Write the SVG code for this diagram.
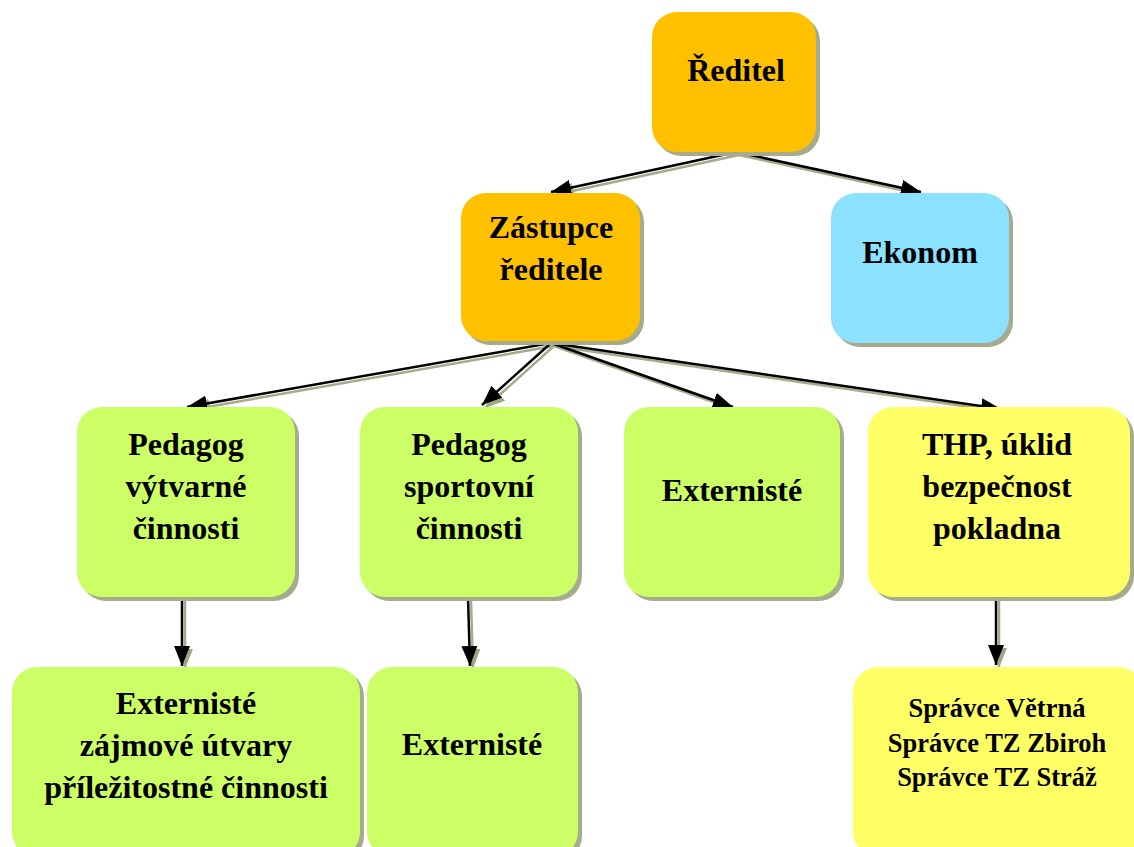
<svg xmlns="http://www.w3.org/2000/svg" width="1134" height="847" viewBox="0 0 1134 847">
<defs>
<marker id="ah" markerUnits="userSpaceOnUse" markerWidth="22" markerHeight="16" refX="20" refY="8" orient="auto"><path d="M0,0 L20,8 L0,16 Z" fill="#000"/></marker>
<marker id="ahs" markerUnits="userSpaceOnUse" markerWidth="22" markerHeight="16" refX="20" refY="8" orient="auto"><path d="M0,0 L20,8 L0,16 Z" fill="#9fa882"/></marker>
</defs>
<style>
.sh{fill:#a5ab8c}
.or{fill:#FFC000}
.bl{fill:#8CE1FF}
.gr{fill:#CCFF66}
.ye{fill:#FFFF66}
text{font-family:"Liberation Serif","Times New Roman",serif;font-weight:bold;font-size:32px;fill:#000;text-anchor:middle}
.sm{font-size:26.5px}
.c{stroke:#000;stroke-width:2.5;fill:none;marker-end:url(#ah)}
.cs{stroke:#a5ab8c;stroke-width:2.5;fill:none;marker-end:url(#ahs)}
</style>
<rect width="1134" height="847" fill="#fff"/>
<g id="connectors">
<g transform="translate(3,3)">
<path class="cs" d="M736,152 L551,192"/>
<path class="cs" d="M736,152 L921,192"/>
<path class="cs" d="M551,343 L187,407"/>
<path class="cs" d="M551,343 L482,405"/>
<path class="cs" d="M551,343 L733,407"/>
<path class="cs" d="M551,343 L1001,409"/>
<path class="cs" d="M182,597 L182,666"/>
<path class="cs" d="M468,597 L470,666"/>
<path class="cs" d="M996,597 L996,665"/>
</g>
<path class="c" d="M736,152 L551,192"/>
<path class="c" d="M736,152 L921,192"/>
<path class="c" d="M551,343 L187,407"/>
<path class="c" d="M551,343 L482,405"/>
<path class="c" d="M551,343 L733,407"/>
<path class="c" d="M551,343 L1001,409"/>
<path class="c" d="M182,597 L182,666"/>
<path class="c" d="M468,597 L470,666"/>
<path class="c" d="M996,597 L996,665"/>
</g>
<g id="reditel">
<rect class="sh" x="656" y="16" width="164" height="140" rx="25"/>
<rect class="or" x="652" y="12" width="164" height="140" rx="25"/>
<text x="736" y="81">Ředitel</text>
</g>
<g id="zastupce">
<rect class="sh" x="465" y="197" width="179" height="148" rx="25"/>
<rect class="or" x="461" y="193" width="179" height="148" rx="25"/>
<text x="551" y="238">Zástupce</text>
<text x="551" y="280">ředitele</text>
</g>
<g id="ekonom">
<rect class="sh" x="835" y="197" width="178" height="150" rx="25"/>
<rect class="bl" x="831" y="193" width="178" height="150" rx="25"/>
<text x="920" y="263">Ekonom</text>
</g>
<g id="pedagog-vytvarne">
<rect class="sh" x="81" y="411" width="218" height="190" rx="25"/>
<rect class="gr" x="77" y="407" width="218" height="190" rx="25"/>
<text x="186" y="455">Pedagog</text>
<text x="186" y="497">výtvarné</text>
<text x="186" y="539">činnosti</text>
</g>
<g id="pedagog-sportovni">
<rect class="sh" x="364" y="411" width="218" height="190" rx="25"/>
<rect class="gr" x="360" y="407" width="218" height="190" rx="25"/>
<text x="469" y="455">Pedagog</text>
<text x="469" y="497">sportovní</text>
<text x="469" y="539">činnosti</text>
</g>
<g id="externiste1">
<rect class="sh" x="628" y="411" width="216" height="190" rx="25"/>
<rect class="gr" x="624" y="407" width="216" height="190" rx="25"/>
<text x="732" y="501">Externisté</text>
</g>
<g id="thp">
<rect class="sh" x="872" y="411" width="262" height="190" rx="25"/>
<rect class="ye" x="868" y="407" width="262" height="190" rx="25"/>
<text x="997" y="455">THP, úklid</text>
<text x="997" y="497">bezpečnost</text>
<text x="997" y="539">pokladna</text>
</g>
<g id="externiste-zajmove">
<rect class="sh" x="16" y="671" width="348" height="190" rx="25"/>
<rect class="gr" x="12" y="667" width="348" height="190" rx="25"/>
<text x="186" y="714">Externisté</text>
<text x="186" y="756">zájmové útvary</text>
<text x="186" y="798">příležitostné činnosti</text>
</g>
<g id="externiste2">
<rect class="sh" x="371" y="671" width="211" height="190" rx="25"/>
<rect class="gr" x="367" y="667" width="211" height="190" rx="25"/>
<text x="472" y="755">Externisté</text>
</g>
<g id="spravce">
<rect class="sh" x="857" y="671" width="290" height="190" rx="25"/>
<rect class="ye" x="853" y="667" width="290" height="190" rx="25"/>
<text class="sm" x="997" y="717">Správce Větrná</text>
<text class="sm" x="997" y="752">Správce TZ Zbiroh</text>
<text class="sm" x="997" y="786">Správce TZ Stráž</text>
</g>
</svg>
